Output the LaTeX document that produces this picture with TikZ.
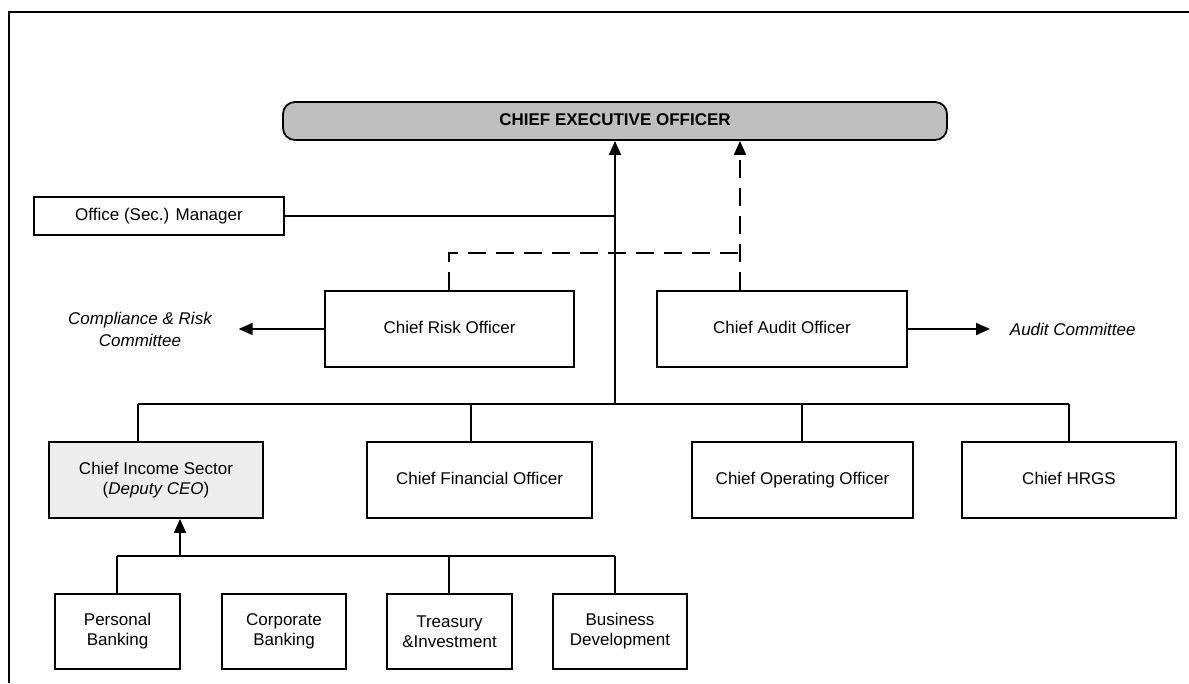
\documentclass[tikz,border=0pt]{standalone}
\usepackage{fontspec}
\setmainfont{Liberation Sans}
\usetikzlibrary{arrows.meta, positioning}

\begin{document}
\begin{tikzpicture}[x=1pt,y=-1pt,>={Triangle[length=14pt,width=12pt]},line width=1.8pt,
	box/.style={draw, rectangle, align=center, minimum height=76pt, inner sep=2pt, font=\fontsize{17}{20}\selectfont},
	oneline/.style={box, text height=12pt, text depth=4pt},
	unitbox/.style={box, minimum height=75pt},
	dashlink/.style={dash pattern=on 18pt off 10pt},
	note/.style={align=center, inner sep=0pt, font=\fontsize{17}{22}\selectfont\itshape}]

	\useasboundingbox (0,0) rectangle (1189,683);
	\draw [line width=2pt] (9,683) -- (9,12) -- (1189,12);

	% top
	\node (ceo) [draw, rounded corners=12pt, fill=gray!50, minimum width=664pt, minimum height=38pt,
		text height=12pt, text depth=3pt, font=\fontsize{17}{20}\selectfont\bfseries] at (615,121) {CHIEF EXECUTIVE OFFICER};
	\node (office) [oneline, minimum width=250pt, minimum height=38pt] at (159,216) {Office (Sec.) Manager};

	% control functions
	\node (cro) [oneline, minimum width=249pt] at (449.5,329) {Chief Risk Officer};
	\node (cao) [oneline, minimum width=250pt] at (782,329) {Chief Audit Officer};
	\node (crc) [note] at (140,329) {Compliance \& Risk\\Committee};
	\node (ac) [note, anchor=west] at (1009,329) {Audit Committee};

	% second level
	\node (income) [box, fill=black!7, minimum width=214pt] at (156,480) {Chief Income Sector\\(\textit{Deputy CEO})};
	\node (cfo) [oneline, minimum width=225pt] at (479.5,480) {Chief Financial Officer};
	\node (coo) [oneline, minimum width=221pt] at (802.5,480) {Chief Operating Officer};
	\node (hrgs) [oneline, minimum width=214pt] at (1069,480) {Chief HRGS};

	% income units
	\node (personal) [unitbox, minimum width=125pt] at (117.5,631.5) {Personal\\Banking};
	\node (corporate) [unitbox, minimum width=124pt] at (284,631.5) {Corporate\\Banking};
	\node (treasury) [unitbox, minimum width=125pt] at (449.5,631.5) {Treasury\\\&Investment};
	\node (business) [unitbox, minimum width=134pt] at (620,631.5) {Business\\Development};

	\coordinate (hub) at (615,404);
	\coordinate (busL) at (138,404);
	\coordinate (dcfo) at (471,404);
	\coordinate (dcoo) at (802,404);
	\coordinate (busR) at (1069,404);
	\coordinate (audit) at (740,253);
	\coordinate (subL) at (117,556);
	\coordinate (subA) at (180,556);
	\coordinate (dtr) at (449,556);
	\coordinate (subR) at (615,556);

	\draw [->] (hub) -- (ceo);
	\draw (office.east) -- (office.east -| hub);
	\draw [->, dashlink] (cao.north -| audit) -- (ceo.south -| audit);
	\draw [dashlink] (cro.north -| dtr) |- (audit);

	\draw [->, shorten >=26pt] (cro.west) -- (crc.east);
	\draw [->, shorten >=19pt] (cao.east) -- (ac.west);

	\draw (busL) -- (busR);
	\draw (busL) -- (busL |- income.north);
	\draw (dcfo) -- (dcfo |- cfo.north);
	\draw (dcoo) -- (dcoo |- coo.north);
	\draw (busR) -- (busR |- hrgs.north);

	\draw (subL) -- (subR);
	\draw [->] (subA) -- (subA |- income.south);
	\draw (subL) -- (subL |- personal.north);
	\draw (dtr) -- (dtr |- treasury.north);
	\draw (subR) -- (subR |- business.north);

\end{tikzpicture}
\end{document}
